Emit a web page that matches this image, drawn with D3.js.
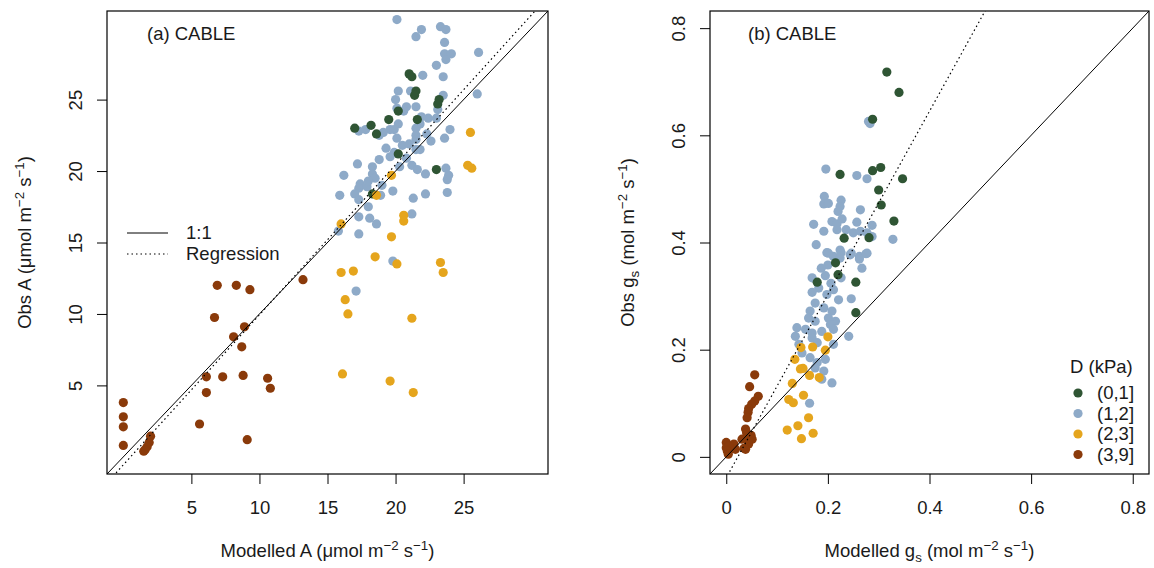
<!DOCTYPE html>
<html lang="en">
<head>
<meta charset="UTF-8">
<title>CABLE: modelled vs observed A and gs</title>
<script src="https://d3js.org/d3.v7.min.js"></script>
<style>
  body { margin: 0; background: #fff; }
  svg { display: block; font-family: "Liberation Sans", Arial, sans-serif; }
</style>
</head>
<body>
<div id="chart"></div>
<script>
// ---------------------------------------------------------------
// data: [modelled, observed] per VPD class
const classNames  = ["(0,1]", "(1,2]", "(2,3]", "(3,9]"];
const classColors = ["#2f5534", "#8eaac8", "#e5a51d", "#8a3a0a"];

// panel (a): net assimilation, umol m-2 s-1
const aD01 = [[21.0,26.8],[21.2,26.6],[21.5,25.6],[21.4,25.3],[23.2,25.0],[23.1,24.7],[20.2,24.2],[19.5,23.6],
  [18.2,23.2],[17.0,23.0],[21.6,23.6],[18.6,22.6],[20.2,21.2],[23.0,20.1],[18.3,18.4]];
const aD12 = [[20.1,30.6],[21.9,29.9],[21.5,29.4],[23.3,30.1],[23.7,29.9],[23.6,29.0],[26.1,28.3],[23.6,28.2],
  [24.1,28.2],[23.7,27.8],[23.0,27.4],[23.5,26.6],[22.0,26.7],[20.2,25.6],[21.1,25.6],[23.5,25.3],[26.0,25.4],
  [20.0,25.0],[20.8,24.5],[20.6,24.2],[21.5,24.5],[20.1,24.4],[23.1,24.3],[20.2,23.3],[21.9,23.8],[22.4,23.7],
  [23.0,23.7],[21.5,23.0],[21.8,23.3],[24.0,22.9],[19.6,22.9],[19.1,22.7],[17.8,22.9],[17.3,22.8],[19.9,22.9],
  [21.5,22.5],[21.5,22.2],[22.3,22.6],[22.6,22.1],[23.6,22.3],[18.8,22.5],[20.1,22.3],[19.3,21.6],[19.9,21.3],
  [19.6,21.0],[18.8,20.8],[21.5,21.5],[21.8,21.5],[20.8,20.9],[21.2,20.4],[21.6,20.1],[22.2,19.8],[17.2,20.5],
  [18.3,20.3],[18.3,19.8],[16.2,19.7],[23.7,20.2],[23.9,19.7],[23.8,19.4],[17.4,19.1],[17.3,18.8],[17.9,18.9],
  [19.0,19.0],[17.0,18.4],[15.9,18.3],[17.3,18.0],[18.9,18.3],[19.8,18.6],[21.3,18.1],[22.2,18.4],[23.8,18.5],
  [18.0,17.5],[17.3,16.8],[18.1,16.7],[18.6,16.3],[21.2,17.0],[15.8,15.8],[17.3,15.6],[19.8,13.7],[17.1,11.6],
  [20.5,21.8],[21.0,21.9],[20.3,20.3],[18.5,19.5],[18.0,19.3]];
const aD23 = [[25.5,22.7],[25.3,20.4],[25.6,20.2],[19.7,19.7],[18.6,18.3],[20.6,16.9],[20.6,16.5],[16.0,16.3],
  [19.7,15.4],[18.5,14.0],[20.1,13.5],[23.3,13.6],[23.5,12.9],[16.0,12.9],[16.9,13.0],[16.3,11.0],[16.5,10.0],
  [21.2,9.7],[16.1,5.8],[19.6,5.3],[21.3,4.5]];
const aD39 = [[0.0,3.8],[0.0,2.8],[0.0,2.1],[0.0,0.8],[2.0,1.45],[1.9,1.0],[1.75,0.7],[1.5,0.4],[1.6,0.5],
  [6.9,12.0],[8.3,12.0],[9.3,11.7],[13.2,12.4],[6.7,9.75],[8.9,9.1],[8.1,8.4],[8.7,7.7],[6.1,5.6],[7.3,5.6],
  [8.8,5.7],[10.6,5.5],[10.8,4.8],[6.1,4.5],[5.6,2.3],[9.1,1.2]];

// panel (b): stomatal conductance, mol m-2 s-1
const bD01 = [[0.316,0.718],[0.340,0.680],[0.288,0.630],[0.224,0.527],[0.288,0.534],[0.304,0.540],[0.347,0.519],
  [0.300,0.498],[0.305,0.470],[0.330,0.440],[0.232,0.408],[0.281,0.409],[0.215,0.362],[0.220,0.340],[0.255,0.326],
  [0.179,0.326],[0.255,0.269]];
const bD12 = [[0.283,0.622],[0.280,0.626],[0.196,0.537],[0.257,0.525],[0.277,0.519],[0.193,0.486],[0.192,0.472],
  [0.201,0.473],[0.226,0.479],[0.224,0.467],[0.264,0.461],[0.220,0.458],[0.172,0.434],[0.208,0.439],[0.218,0.435],
  [0.228,0.444],[0.257,0.438],[0.287,0.432],[0.192,0.421],[0.218,0.424],[0.236,0.424],[0.250,0.418],[0.264,0.421],
  [0.277,0.418],[0.287,0.411],[0.328,0.406],[0.177,0.396],[0.198,0.381],[0.211,0.374],[0.224,0.386],[0.244,0.377],
  [0.262,0.374],[0.277,0.380],[0.201,0.380],[0.226,0.381],[0.224,0.371],[0.246,0.380],[0.275,0.379],[0.262,0.369],
  [0.200,0.358],[0.187,0.352],[0.267,0.352],[0.169,0.334],[0.195,0.338],[0.226,0.334],[0.206,0.324],[0.182,0.315],
  [0.169,0.307],[0.211,0.312],[0.198,0.303],[0.221,0.293],[0.246,0.295],[0.175,0.287],[0.165,0.272],[0.192,0.278],
  [0.208,0.272],[0.162,0.259],[0.175,0.253],[0.201,0.259],[0.215,0.253],[0.205,0.247],[0.139,0.241],[0.156,0.238],
  [0.169,0.231],[0.188,0.234],[0.211,0.238],[0.136,0.225],[0.169,0.222],[0.179,0.213],[0.143,0.210],[0.211,0.210],
  [0.241,0.225],[0.149,0.194],[0.165,0.185],[0.179,0.176],[0.195,0.182],[0.175,0.166],[0.192,0.160],[0.208,0.138],
  [0.188,0.145],[0.164,0.100]];
const bD23 = [[0.200,0.224],[0.147,0.204],[0.170,0.205],[0.195,0.199],[0.135,0.182],[0.146,0.164],[0.151,0.165],
  [0.164,0.152],[0.183,0.148],[0.130,0.137],[0.123,0.107],[0.132,0.101],[0.152,0.115],[0.162,0.073],[0.141,0.058],
  [0.120,0.050],[0.171,0.044],[0.148,0.034]];
const bD39 = [[0.056,0.153],[0.046,0.131],[0.063,0.113],[0.056,0.104],[0.050,0.098],[0.044,0.090],[0.043,0.083],
  [0.041,0.073],[0.038,0.052],[0.040,0.045],[0.046,0.036],[0.031,0.033],[0.035,0.016],[0.044,0.024],[0.038,0.014],
  [0.000,0.027],[0.000,0.017],[0.005,0.020],[0.008,0.014],[0.002,0.011],[0.015,0.024],[0.004,0.005],[0.018,0.014],
  [0.049,0.040],[0.051,0.033]];

// axis limits, ticks and fitted regressions (intercept, slope)
const aLim = [0, 30], aTicks = [5, 10, 15, 20, 25];
const bLim = [0, 0.8], bTicks = [0, 0.2, 0.4, 0.6, 0.8];
const aReg = [-0.56, 1.05];
const bReg = [-0.039, 1.71];
const lineLegend = ["1:1", "Regression"];

// ---------------------------------------------------------------
const width = 1154, height = 568;
const fs = 18.5;
const dotR = 4.6;
const svg = d3.select("#chart").append("svg")
  .attr("width", width).attr("height", height);

// R-style axis range: limits stretched 4% each side
function rLim(lim) {
  const d = (lim[1] - lim[0]) * 0.04;
  return [lim[0] - d, lim[1] + d];
}

// text with sub/superscripts; parts = [[text, shift]]
function richText(g, parts) {
  let cur = 0;
  parts.forEach(([t, s]) => {
    g.append("tspan")
      .attr("dy", s - cur)
      .attr("font-size", s === 0 ? fs : fs * 0.72)
      .text(t);
    cur = s;
  });
}

function drawPanel(p) {
  const x = d3.scaleLinear().domain(rLim(p.lim)).range([p.left, p.right]);
  const y = d3.scaleLinear().domain(rLim(p.lim)).range([p.bottom, p.top]);
  const g = svg.append("g");

  g.append("clipPath").attr("id", p.id + "clip")
    .append("rect")
    .attr("x", p.left).attr("y", p.top)
    .attr("width", p.right - p.left).attr("height", p.bottom - p.top);

  // points, light blue first so others sit on top
  const groups = [1, 0, 2, 3];
  groups.forEach(i => {
    g.append("g").selectAll("circle")
      .data(p.data[i])
      .join("circle")
      .attr("cx", d => x(d[0]))
      .attr("cy", d => y(d[1]))
      .attr("r", dotR)
      .attr("fill", classColors[i]);
  });

  // 1:1 and regression lines
  const dom = x.domain();
  const lines = g.append("g").attr("clip-path", `url(#${p.id}clip)`);
  lines.append("line")
    .attr("x1", x(dom[0])).attr("y1", y(dom[0]))
    .attr("x2", x(dom[1])).attr("y2", y(dom[1]))
    .attr("stroke", "#000").attr("stroke-width", 1);
  lines.append("line")
    .attr("x1", x(dom[0])).attr("y1", y(p.reg[0] + p.reg[1] * dom[0]))
    .attr("x2", x(dom[1])).attr("y2", y(p.reg[0] + p.reg[1] * dom[1]))
    .attr("stroke", "#000").attr("stroke-width", 1.2)
    .attr("stroke-dasharray", "1.5,3");

  // box
  g.append("rect")
    .attr("x", p.left).attr("y", p.top)
    .attr("width", p.right - p.left).attr("height", p.bottom - p.top)
    .attr("fill", "none").attr("stroke", "#000").attr("stroke-width", 1.2);

  // x axis
  const xa = g.append("g").attr("transform", `translate(0,${p.bottom})`)
    .call(d3.axisBottom(x).tickValues(p.ticks).tickFormat(p.fmt).tickSize(10).tickPadding(17));
  xa.select(".domain").remove();
  xa.selectAll("text").attr("font-size", fs).attr("font-family", null).attr("fill", "#1a1a1a");

  // y axis, labels parallel to the axis
  const ya = g.append("g").attr("transform", `translate(${p.left},0)`)
    .call(d3.axisLeft(y).tickValues(p.ticks).tickFormat(p.fmt).tickSize(10));
  ya.select(".domain").remove();
  ya.selectAll("text")
    .attr("font-size", fs).attr("font-family", null).attr("fill", "#1a1a1a")
    .attr("x", null).attr("dy", null)
    .attr("text-anchor", "middle")
    .attr("transform", `translate(-25,0) rotate(-90)`);

  // axis titles
  const cx = (p.left + p.right) / 2, cy = (p.top + p.bottom) / 2;
  richText(g.append("text").attr("x", cx).attr("y", p.bottom + 83)
    .attr("text-anchor", "middle").attr("fill", "#1a1a1a"), p.xTitle);
  richText(g.append("text")
    .attr("transform", `translate(${p.left - 76},${cy}) rotate(-90)`)
    .attr("text-anchor", "middle").attr("fill", "#1a1a1a"), p.yTitle);

  // panel label
  g.append("text").attr("x", p.left + p.labelDx).attr("y", 40)
    .attr("font-size", fs).attr("fill", "#1a1a1a").text(p.label);

  return { x, y, g };
}

const sup = -7, sub = 5;
const pa = drawPanel({
  id: "a", left: 107, right: 548, top: 11, bottom: 474,
  lim: aLim, ticks: aTicks, fmt: d3.format("d"), reg: aReg,
  data: [aD01, aD12, aD23, aD39], label: "(a) CABLE", labelDx: 40,
  xTitle: [["Modelled A (\u03bcmol m", 0], ["\u22122", sup], [" s", 0], ["\u22121", sup], [")", 0]],
  yTitle: [["Obs A (\u03bcmol m", 0], ["\u22122", sup], [" s", 0], ["\u22121", sup], [")", 0]]
});
const pb = drawPanel({
  id: "b", left: 710, right: 1149, top: 11, bottom: 474,
  lim: bLim, ticks: bTicks, fmt: d => d === 0 ? "0" : d3.format(".1f")(d), reg: bReg,
  data: [bD01, bD12, bD23, bD39], label: "(b) CABLE", labelDx: 38,
  xTitle: [["Modelled g", 0], ["s", sub], [" (mol m", 0], ["\u22122", sup], [" s", 0], ["\u22121", sup], [")", 0]],
  yTitle: [["Obs g", 0], ["s", sub], [" (mol m", 0], ["\u22122", sup], [" s", 0], ["\u22121", sup], [")", 0]]
});

// legend for the lines in panel (a)
const la = pa.g.append("g");
lineLegend.forEach((t, i) => {
  const yy = 233 + i * 21;
  la.append("line")
    .attr("x1", 127).attr("x2", 168).attr("y1", yy).attr("y2", yy)
    .attr("stroke", "#000").attr("stroke-width", i ? 1.2 : 1)
    .attr("stroke-dasharray", i ? "1.5,3" : null);
  la.append("text").attr("x", 186).attr("y", yy).attr("dy", "0.35em")
    .attr("font-size", fs).attr("fill", "#1a1a1a").text(t);
});

// legend for VPD classes in panel (b)
const lb = pb.g.append("g");
lb.append("text").attr("x", 1070).attr("y", 367).attr("dy", "0.35em")
  .attr("font-size", fs).attr("fill", "#1a1a1a").text("D (kPa)");
classNames.forEach((t, i) => {
  const yy = 393 + i * 20.5;
  lb.append("circle").attr("cx", 1078).attr("cy", yy).attr("r", dotR).attr("fill", classColors[i]);
  lb.append("text").attr("x", 1097).attr("y", yy).attr("dy", "0.35em")
    .attr("font-size", fs).attr("fill", "#1a1a1a").text(t);
});
</script>
</body>
</html>
